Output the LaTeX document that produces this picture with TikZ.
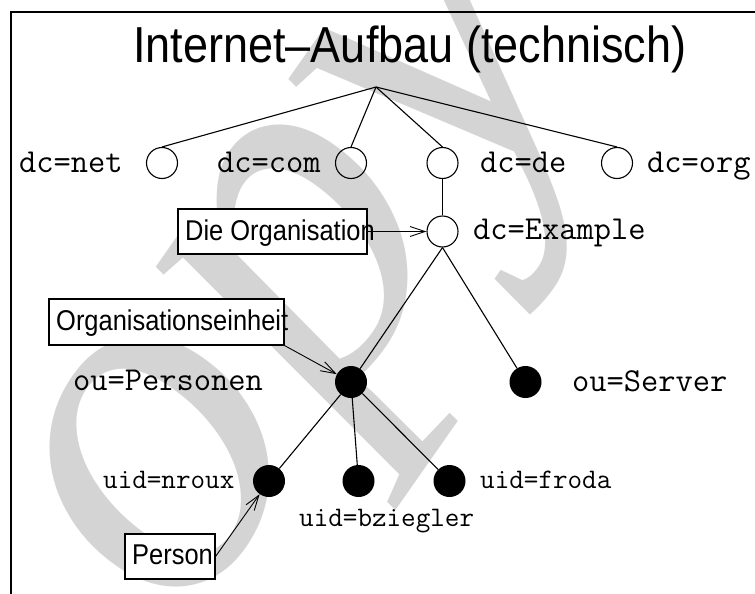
\documentclass[tikz,border=0pt]{standalone}
\usepackage{fontspec}
\usetikzlibrary{arrows.meta}
\newfontfamily\hvfont[FakeStretch=0.89]{Liberation Sans}
\newfontfamily\stampfont{Liberation Serif}

\begin{document}
\begin{tikzpicture}[x=1pt,y=-1pt,
  edge/.style={line width=1.1pt},
  hollow/.style={circle, draw, line width=1.1pt, minimum size=31pt, inner sep=0pt},
  filleddot/.style={circle, fill=black, minimum size=32pt, inner sep=0pt},
  tag/.style={draw, fill=white, line width=1.1pt, inner sep=0pt},
  tagtext/.style={font=\hvfont\fontsize{28.6}{30}\selectfont, inner sep=0pt, anchor=base west},
  dn/.style={font=\ttfamily\fontsize{33.5}{36}\selectfont, inner sep=0pt, anchor=base west},
  uidn/.style={font=\ttfamily\fontsize{28.3}{30}\selectfont, inner sep=0pt, anchor=base west},
  pointer/.style={line width=0.9pt, -{Straight Barb[length=15pt,width=10pt]}}
]
\useasboundingbox (0,0) rectangle (755,594);

% background stamp
\begin{scope}
  \clip (0,0) rectangle (755,594);
  \node[rotate=55, anchor=base west, inner sep=0pt, text=black!17,
        font=\stampfont\itshape\fontsize{500}{500}\selectfont] (stamp) at (-9,904) {Copy};
\end{scope}

% frame
\draw[line width=1.2pt] (11,600) -- (11,12) -- (760,12);

% title
\node[font=\hvfont\fontsize{50.6}{54}\selectfont, anchor=base west, inner sep=0pt] (title) at (133,63) {Internet–Aufbau (technisch)};

% tree nodes
\coordinate (root) at (376,87);
\node[hollow] (net) at (162,163) {};
\node[hollow] (com) at (351,163) {};
\node[hollow] (de) at (442.5,163) {};
\node[hollow] (org) at (617,163) {};
\node[hollow] (ex) at (442.5,231.5) {};
\node[filleddot] (pers) at (351,382) {};
\node[filleddot] (srv) at (525.5,382) {};
\node[filleddot] (nroux) at (269,481) {};
\node[filleddot] (bzieg) at (358.5,481) {};
\node[filleddot] (froda) at (449.5,481) {};

% entry names
\node[dn] (lnet) at (19,172) {dc=net};
\node[dn] (lcom) at (217,172) {dc=com};
\node[dn] (lde) at (480,172) {dc=de};
\node[dn] (lorg) at (647,172) {dc=org};
\node[dn] (lex) at (473,239) {dc=Example};
\node[dn] (lpers) at (73,390) {ou=Personen};
\node[dn] (lsrv) at (572,391) {ou=Server};
\node[uidn] (lnroux) at (103,488) {uid=nroux};
\node[uidn] (lbzieg) at (299,526) {uid=bziegler};
\node[uidn] (lfroda) at (480,488) {uid=froda};

% tree edges
\draw[edge] (root) -- (net.north);
\draw[edge] (root) -- (com.north);
\draw[edge] (root) -- (de.north);
\draw[edge] (root) -- (org.north);
\draw[edge] (de) -- (ex);
\draw[edge] (ex.south) -- (pers);
\draw[edge] (ex.south) -- (srv);
\draw[edge] (pers) -- (nroux);
\draw[edge] (pers) -- (bzieg);
\draw[edge] (pers) -- (froda);

% annotation boxes
\node[tag, minimum width=189pt, minimum height=45pt] (orgbox) at (272.5,231.5) {};
\node[tagtext] (orgtxt) at (185,240) {Die Organisation};
\node[tag, minimum width=235pt, minimum height=46pt] (oubox) at (166.5,322) {};
\node[tagtext] (outxt) at (56,330) {Organisationseinheit};
\node[tag, minimum width=90pt, minimum height=45pt] (pbox) at (170,556.5) {};
\node[tagtext] (ptxt) at (132,564) {Person};

% pointers
\draw[pointer] (orgbox.east) -- (ex.west);
\draw[pointer] (oubox.south east) -- (pers);
\draw[pointer] (pbox.east) -- (nroux);
\end{tikzpicture}
\end{document}
